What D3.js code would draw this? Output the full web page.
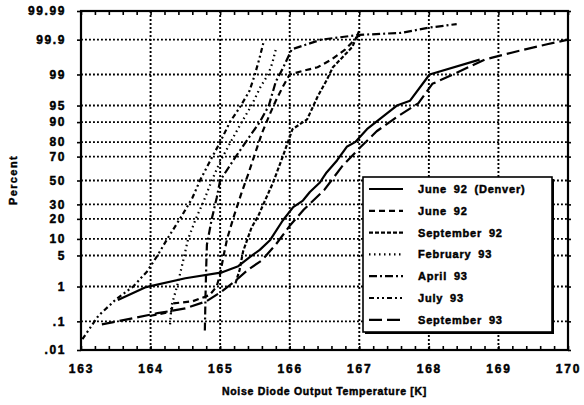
<!DOCTYPE html>
<html>
<head>
<meta charset="utf-8">
<script src="https://cdn.jsdelivr.net/npm/d3@7"></script>
<style>
  body { margin: 0; background: #fff; }
  svg { display: block; }
  text { font-family: "Liberation Sans", Arial, sans-serif; font-weight: bold; fill: #000;
         stroke: #000; stroke-width: 0.45px; }
</style>
</head>
<body>
<svg id="chart" width="584" height="405"></svg>
<script>
//*************************************************//
// Data: [temperature K, percent]
//*************************************************//
var seriesNames = ["June 92 (Denver)", "June 92", "September 92", "February 93",
                   "April 93", "July 93", "September 93"];

var june92Denver = [[163.53,0.44],[163.92,0.95],[164.5,1.6],[165.03,2.2],[165.26,3.0],
    [165.43,4.7],[165.57,6.4],[165.72,9.6],[165.9,19],[166.05,28],[166.19,33],[166.29,40],
    [166.43,48],[166.53,57],[166.68,67],[166.82,77],[166.94,80],[167.11,87],[167.54,95],
    [167.73,96],[168.01,99.0],[168.73,99.6]];

var june92 = [[164.0,0.15],[164.3,0.2],[164.32,0.35],[164.6,0.4],[164.85,0.6],[164.95,1.0],
    [165.0,2],[165.05,5],[165.1,10],[165.2,22],[165.3,38],[165.4,55],[165.5,72],[165.6,85],
    [165.7,92],[165.8,96],[165.9,98],[166.0,99],[166.2,99.2],[166.4,99.35],[166.6,99.6],
    [166.8,99.8],[167.0,99.93]];

var september92 = [[165.22,1.2],[165.28,2.5],[165.33,6],[165.45,15],[165.55,22],[165.62,30],
    [165.76,48],[165.9,70],[166.04,87],[166.25,91],[166.4,96.7],[166.53,98.6],[166.62,99.35],
    [166.9,99.83],[167.0,99.95]];

var february93 = [[164.28,0.08],[164.3,0.3],[164.38,1],[164.45,3],[164.54,10],[164.65,20],
    [164.76,32],[164.88,50],[165.0,66],[165.15,80],[165.31,90],[165.45,95],[165.58,98],
    [165.69,99],[165.75,99.5],[165.8,99.8]];

var april93 = [[164.78,0.05],[164.79,0.6],[164.8,3],[164.81,8],[164.88,20],[164.95,35],
    [165.0,50],[165.2,68],[165.4,82],[165.57,90],[165.7,95],[165.8,98.5],[165.9,99.3],
    [166.03,99.8],[166.45,99.9],[167.0,99.93],[167.6,99.94],[168.0,99.96],[168.4,99.97]];

var july93 = [[163.02,0.025],[163.25,0.15],[163.5,0.45],[163.75,1.0],[163.95,2.3],[164.1,5],
    [164.24,10],[164.45,22],[164.6,35],[164.71,50],[164.85,66],[165.0,80],[165.14,90],
    [165.28,94.5],[165.42,97.5],[165.5,99],[165.56,99.6],[165.62,99.87]];

var september93 = [[163.3,0.08],[163.7,0.12],[164.1,0.18],[164.5,0.25],[164.8,0.4],[165.0,0.7],
    [165.2,1.3],[165.4,2.5],[165.6,4],[165.8,8],[166.0,16],[166.2,26],[166.5,42],[166.75,62],
    [167.0,76],[167.25,86],[167.55,92],[167.85,95.5],[168.05,98.3],[168.4,99.1],[168.8,99.6],
    [169.3,99.78],[169.7,99.86],[170.0,99.9]];

var seriesData = [june92Denver, june92, september92, february93, april93, july93, september93];

var xTicks = [163, 164, 165, 166, 167, 168, 169, 170];
var yTicks = [0.01, 0.1, 1, 5, 10, 20, 30, 50, 70, 80, 90, 95, 99, 99.9, 99.99];
var yTickLabels = [".01", ".1", "1", "5", "10", "20", "30", "50", "70", "80", "90", "95", "99", "99.9", "99.99"];

//*************************************************//
// Probability (probit) transform
//*************************************************//
var probit = function(p) {
    // Acklam inverse normal approximation
    var a = [-3.969683028665376e+01, 2.209460984245205e+02, -2.759285104469687e+02,
             1.383577518672690e+02, -3.066479806614716e+01, 2.506628277459239e+00];
    var b = [-5.447609879822406e+01, 1.615858368580409e+02, -1.556989798598866e+02,
             6.680131188771972e+01, -1.328068155288572e+01];
    var c = [-7.784894002430293e-03, -3.223964580411365e-01, -2.400758277161838e+00,
             -2.549732539343734e+00, 4.374664141464968e+00, 2.938163982698783e+00];
    var d = [7.784695709041462e-03, 3.224671290700398e-01, 2.445134137142996e+00,
             3.754408661907416e+00];
    var pl = 0.02425, q, r;
    if (p < pl) {
        q = Math.sqrt(-2 * Math.log(p));
        return (((((c[0]*q+c[1])*q+c[2])*q+c[3])*q+c[4])*q+c[5]) / ((((d[0]*q+d[1])*q+d[2])*q+d[3])*q+1);
    }
    if (p > 1 - pl) {
        q = Math.sqrt(-2 * Math.log(1 - p));
        return -(((((c[0]*q+c[1])*q+c[2])*q+c[3])*q+c[4])*q+c[5]) / ((((d[0]*q+d[1])*q+d[2])*q+d[3])*q+1);
    }
    q = p - 0.5; r = q * q;
    return (((((a[0]*r+a[1])*r+a[2])*r+a[3])*r+a[4])*r+a[5])*q / (((((b[0]*r+b[1])*r+b[2])*r+b[3])*r+b[4])*r+1);
};

//*************************************************//
// Layout and scales
//*************************************************//
var margin = {top: 11, right: 16, bottom: 55, left: 81};
var width = 584 - margin.left - margin.right;
var height = 405 - margin.top - margin.bottom;

var svg = d3.select("#chart");
var g = svg.append("g").attr("transform", "translate(" + margin.left + "," + margin.top + ")");

var x = d3.scaleLinear().domain([163, 170]).range([0, width]);
var z = d3.scaleLinear().domain([probit(0.0001), probit(0.9999)]).range([height, 0]);
var y = function(pct) { return z(probit(pct / 100)); };

// Dotted grid
g.append("g").selectAll("line")
    .data(xTicks.slice(1, -1))
    .enter().append("line")
    .attr("x1", function(d) { return x(d); })
    .attr("x2", function(d) { return x(d); })
    .attr("y1", 0).attr("y2", height)
    .attr("stroke", "#000").attr("stroke-width", 1.9)
    .attr("stroke-dasharray", "1.9,2.1");

g.append("g").selectAll("line")
    .data(yTicks.slice(1, -1))
    .enter().append("line")
    .attr("x1", 0).attr("x2", width)
    .attr("y1", function(d) { return y(d); })
    .attr("y2", function(d) { return y(d); })
    .attr("stroke", "#000").attr("stroke-width", 1.9)
    .attr("stroke-dasharray", "1.9,2.1");

// Minor ticks on top and bottom edges
var minor = d3.range(163, 170.001, 0.2);
g.append("g")
    .attr("transform", "translate(0," + height + ")")
    .call(d3.axisBottom(x).tickValues(minor).tickSize(-4).tickFormat(""))
    .call(function(s) { s.select(".domain").remove(); s.selectAll("line").attr("stroke-width", 1.6); });
g.append("g")
    .call(d3.axisTop(x).tickValues(minor).tickSize(-4).tickFormat(""))
    .call(function(s) { s.select(".domain").remove(); s.selectAll("line").attr("stroke-width", 1.6); });

// Axes with labels
var xAxis = g.append("g")
    .attr("transform", "translate(0," + height + ")")
    .call(d3.axisBottom(x).tickValues(xTicks).tickSize(0).tickPadding(14).tickFormat(d3.format("d")));
xAxis.select(".domain").remove();
xAxis.selectAll("text").style("font-size", "12px").style("letter-spacing", "1.8px");

var yAxis = g.append("g")
    .call(d3.axisLeft(z).tickValues(yTicks.map(function(p) { return probit(p / 100); }))
        .tickSize(4).tickPadding(11)
        .tickFormat(function(d, i) { return yTickLabels[i]; }));
yAxis.select(".domain").remove();
yAxis.selectAll("line").attr("stroke-width", 1.6);
yAxis.selectAll("text").style("font-size", "12px").style("letter-spacing", "1.6px");

var yAxisRight = g.append("g")
    .attr("transform", "translate(" + width + ",0)")
    .call(d3.axisRight(z).tickValues(yTicks.map(function(p) { return probit(p / 100); }))
        .tickSize(3).tickFormat(""));
yAxisRight.select(".domain").remove();
yAxisRight.selectAll("line").attr("stroke-width", 1.6);

// Frame
g.append("rect")
    .attr("width", width).attr("height", height)
    .attr("fill", "none").attr("stroke", "#000").attr("stroke-width", 2.2);

// Axis titles
svg.append("text")
    .attr("x", margin.left + width / 2).attr("y", 395)
    .attr("text-anchor", "middle")
    .style("font-size", "10.5px").style("letter-spacing", "0.7px")
    .text("Noise Diode Output Temperature [K]");

svg.append("text")
    .attr("transform", "translate(17," + 180 + ") rotate(-90)")
    .attr("text-anchor", "middle")
    .style("font-size", "11px").style("letter-spacing", "1.4px")
    .text("Percent");

//*************************************************//
// Curves
//*************************************************//
var dashes = [null, "6,4", "4,2", "1.5,3.5", "8,3,2,3", "5,3,2,3,2,3", "13,5"];

var line = d3.line()
    .x(function(d) { return x(d[0]); })
    .y(function(d) { return y(d[1]); });

g.append("g").selectAll("path")
    .data(seriesData)
    .enter().append("path")
    .attr("d", line)
    .attr("fill", "none")
    .attr("stroke", "#000")
    .attr("stroke-width", 2.2)
    .attr("stroke-linejoin", "round")
    .attr("stroke-dasharray", function(d, i) { return dashes[i]; });

//*************************************************//
// Legend
//*************************************************//
var legend = svg.append("g").attr("transform", "translate(363,177)");
legend.append("rect")
    .attr("x", 2).attr("y", 2)
    .attr("width", 189).attr("height", 155)
    .attr("fill", "#000");
legend.append("rect")
    .attr("width", 189).attr("height", 155)
    .attr("fill", "#fff").attr("stroke", "#000").attr("stroke-width", 1.6);

var rows = legend.selectAll(".row")
    .data(seriesNames)
    .enter().append("g")
    .attr("class", "row")
    .attr("transform", function(d, i) { return "translate(0," + (12 + i * 21.8) + ")"; });

rows.append("line")
    .attr("x1", 6).attr("x2", 40)
    .attr("y1", 0).attr("y2", 0)
    .attr("stroke", "#000").attr("stroke-width", 2.2)
    .attr("stroke-dasharray", function(d, i) { return dashes[i]; });

rows.append("text")
    .attr("x", 55).attr("y", 4)
    .style("font-size", "11px").style("letter-spacing", "0.8px").style("word-spacing", "3px")
    .text(function(d) { return d; });
</script>
</body>
</html>
